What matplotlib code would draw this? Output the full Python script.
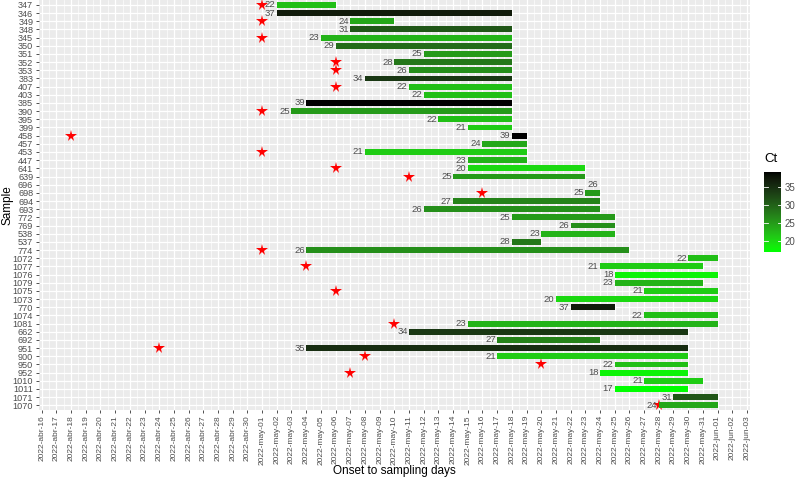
import numpy as np
import pandas as pd
import matplotlib
matplotlib.use("Agg")
import matplotlib.pyplot as plt
import matplotlib.dates as mdates
from matplotlib.colors import ListedColormap, Normalize
from matplotlib.cm import ScalarMappable

plt.rcParams['font.family'] = ['Liberation Sans', 'DejaVu Sans']

# --- dados ---
amostras = ['347', '346', '349', '348', '345', '350', '351', '352', '353', '383',
            '407', '403', '385', '390', '395', '399', '458', '457', '453', '447',
            '641', '639', '696', '698', '694', '693', '772', '769', '538', '537',
            '774', '1072', '1077', '1076', '1079', '1075', '1073', '770', '1074', '1081',
            '662', '692', '951', '900', '950', '952', '1010', '1011', '1071', '1070']

inicio = ['05-02', '05-02', '05-07', '05-07', '05-05', '05-06', '05-12', '05-10', '05-11', '05-08',
          '05-11', '05-12', '05-04', '05-03', '05-13', '05-15', '05-18', '05-16', '05-08', '05-15',
          '05-15', '05-14', '05-24', '05-23', '05-14', '05-12', '05-18', '05-22', '05-20', '05-18',
          '05-04', '05-30', '05-24', '05-25', '05-25', '05-27', '05-21', '05-22', '05-27', '05-15',
          '05-11', '05-17', '05-04', '05-17', '05-25', '05-24', '05-27', '05-25', '05-29', '05-28']

coleta = ['05-06', '05-18', '05-10', '05-18', '05-18', '05-18', '05-18', '05-18', '05-18', '05-18',
          '05-18', '05-18', '05-18', '05-18', '05-18', '05-18', '05-19', '05-19', '05-19', '05-19',
          '05-23', '05-23', '05-24', '05-24', '05-24', '05-24', '05-25', '05-25', '05-25', '05-20',
          '05-26', '06-01', '05-31', '06-01', '05-31', '06-01', '06-01', '05-25', '06-01', '06-01',
          '05-30', '05-24', '05-30', '05-30', '05-30', '05-30', '05-31', '05-30', '06-01', '06-01']

ct = [22, 37, 24, 31, 23, 29, 25, 28, 26, 34,
      22, 22, 39, 25, 22, 21, 39, 24, 21, 23,
      20, 25, 26, 25, 27, 26, 25, 26, 23, 28,
      26, 22, 21, 18, 23, 21, 20, 37, 22, 23,
      34, 27, 35, 21, 22, 18, 21, 17, 31, 24]

estrela = ['05-01', None, '05-01', None, '05-01', None, None, '05-06', '05-06', None,
           '05-06', None, None, '05-01', None, None, '04-18', None, '05-01', None,
           '05-06', '05-11', None, '05-16', None, None, None, None, None, None,
           '05-01', None, '05-04', None, None, '05-06', None, None, None, '05-10',
           None, None, '04-24', '05-08', '05-20', '05-07', None, None, None, '05-28']

meses = {4: 'abr', 5: 'may', 6: 'jun'}


def para_data(s):
    return mdates.date2num(pd.Timestamp('2022-' + s))


# gradiente verde -> preto interpolado em Lab (como no ggplot)
M = np.array([[0.4124, 0.3576, 0.1805], [0.2126, 0.7152, 0.0722], [0.0193, 0.1192, 0.9505]])
BRANCO = np.array([0.95047, 1.0, 1.08883])


def rgb_para_lab(rgb):
    c = np.where(rgb <= 0.04045, rgb / 12.92, ((rgb + 0.055) / 1.055) ** 2.4)
    xyz = M @ c / BRANCO
    f = np.where(xyz > (6 / 29) ** 3, np.cbrt(xyz), xyz / (3 * (6 / 29) ** 2) + 4 / 29)
    return np.array([116 * f[1] - 16, 500 * (f[0] - f[1]), 200 * (f[1] - f[2])])


def lab_para_rgb(lab):
    fy = (lab[0] + 16) / 116
    f = np.array([fy + lab[1] / 500, fy, fy - lab[2] / 200])
    xyz = np.where(f > 6 / 29, f ** 3, 3 * (6 / 29) ** 2 * (f - 4 / 29)) * BRANCO
    c = np.clip(np.linalg.inv(M) @ xyz, 0, 1)
    return np.clip(np.where(c <= 0.0031308, 12.92 * c, 1.055 * c ** (1 / 2.4) - 0.055), 0, 1)


lab_baixo = rgb_para_lab(np.array([0.0, 1.0, 0.0]))
lab_alto = rgb_para_lab(np.array([0.0, 0.0, 0.0]))
cores = [lab_para_rgb(lab_baixo + t * (lab_alto - lab_baixo)) for t in np.linspace(0, 1, 256)]
cmap = ListedColormap(cores)
norm = Normalize(vmin=min(ct), vmax=max(ct))

fig = plt.figure(figsize=(7.96, 4.79), dpi=100)
ax = fig.add_axes([0.0487, 0.1436, 0.8933, 0.8564])
ax.set_facecolor('#EBEBEB')

n = len(amostras)
ys = np.arange(n)[::-1]

x0 = np.array([para_data(s) for s in inicio])
x1 = np.array([para_data(s) for s in coleta])

for i in range(n):
    if estrela[i] is not None:
        ax.plot(para_data(estrela[i]), ys[i], marker='*', color='red', markersize=8.5,
                markeredgewidth=0, zorder=2)

ax.barh(ys, x1 - x0, left=x0, height=0.72, color=cmap(norm(np.array(ct))), zorder=3)

for i in range(n):
    ax.annotate(str(ct[i]), (x0[i], ys[i]), xytext=(-1, 0), textcoords='offset points',
                ha='right', va='center', fontsize=6.8, color='#4D4D4D', zorder=4)

ax.set_xlim(para_data('04-16') - 0.2, para_data('06-03') + 0.2)
ax.set_ylim(-0.6, n - 0.4)

dias = pd.date_range('2022-04-16', '2022-06-03', freq='D')
ax.set_xticks(mdates.date2num(dias))
ax.set_xticklabels([f"{d.year}-{meses[d.month]}-{d.day:02d}" for d in dias],
                   rotation=90, fontsize=6.0, color='#4D4D4D')
ax.set_xticks(mdates.date2num(dias[:-1]) + 0.5, minor=True)
ax.set_yticks(ys)
ax.set_yticklabels(amostras, fontsize=6.6, color='#4D4D4D')

ax.grid(True, which='major', color='white', linewidth=0.9)
ax.grid(True, which='minor', axis='x', color='white', linewidth=0.45)
ax.set_axisbelow(True)
ax.tick_params(which='major', length=2.5, width=0.6, color='#333333', pad=1.5)
ax.tick_params(axis='x', which='major', pad=1.0)
ax.tick_params(which='minor', length=0)
for s in ax.spines.values():
    s.set_visible(False)

fig.text(394 / 796, 1 - 471 / 479, 'Onset to sampling days', fontsize=8.5,
         ha='center', va='center')
fig.text(8 / 796, 1 - 205 / 479, 'Sample', fontsize=8.5, rotation=90,
         ha='center', va='center')

# barra de cores
cax = fig.add_axes([0.960, 0.474, 0.021, 0.167])
cb = fig.colorbar(ScalarMappable(norm=norm, cmap=cmap), cax=cax)
cb.outline.set_visible(False)
cb.set_ticks([20, 25, 30, 35])
cax.tick_params(length=0, labelsize=7, labelcolor='#4D4D4D', pad=3)
for t in [20, 25, 30, 35]:
    cax.plot([0, 0.2], [t, t], transform=cax.get_yaxis_transform(), color='white', lw=0.6)
    cax.plot([0.8, 1], [t, t], transform=cax.get_yaxis_transform(), color='white', lw=0.6)
fig.text(0.960, 0.655, 'Ct', fontsize=9.5, ha='left', va='bottom')

fig.savefig('out.png', dpi=100)
